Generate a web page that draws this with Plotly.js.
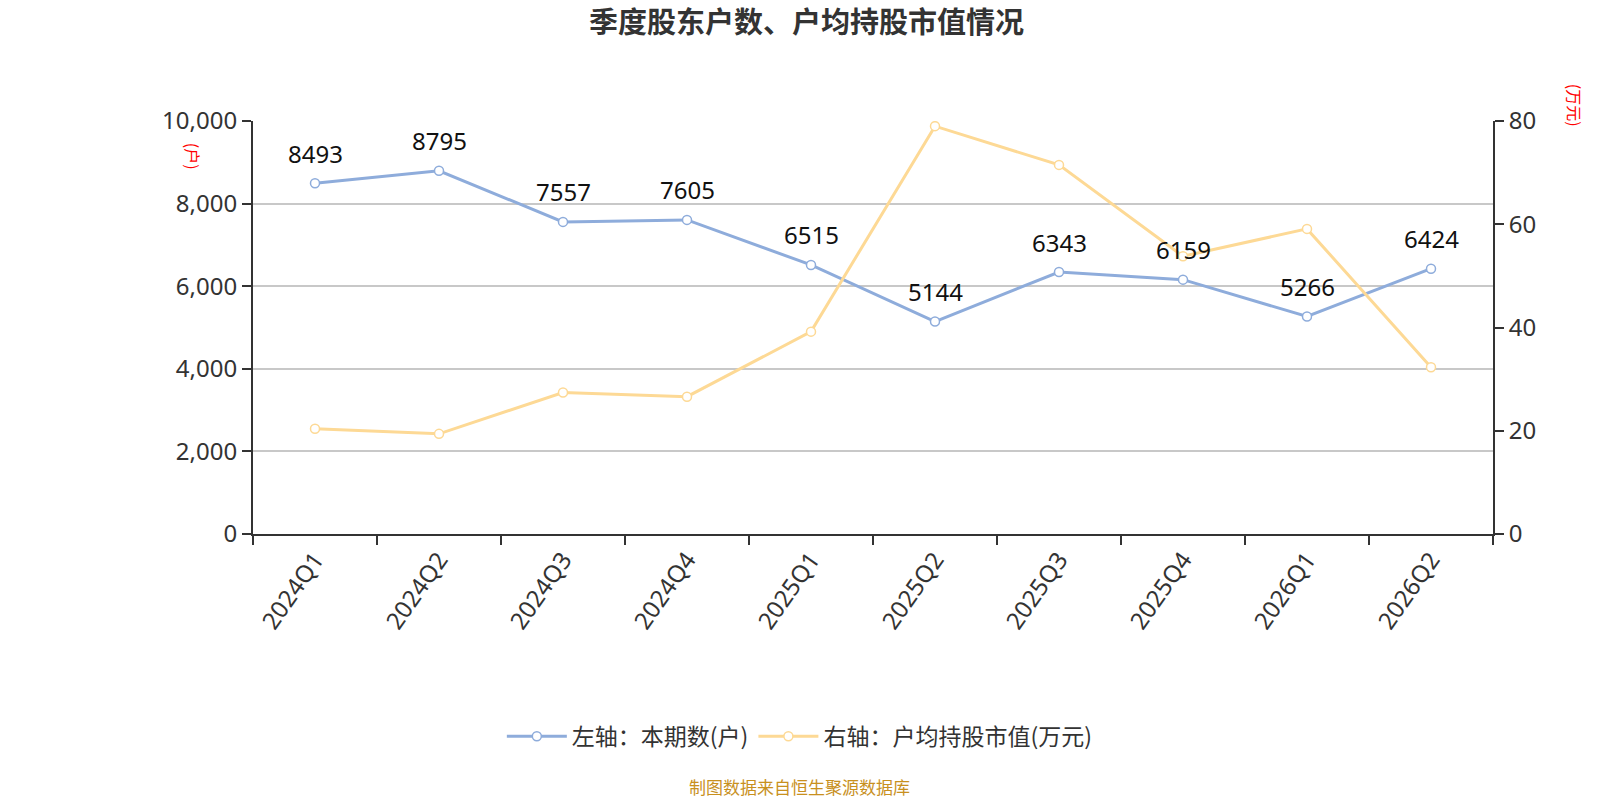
<!DOCTYPE html>
<html>
<head>
<meta charset="utf-8">
<script src="https://cdn.plot.ly/plotly-3.0.1.min.js"></script>
<style>
  html, body { margin: 0; padding: 0; background: #fff; }
  #chart { width: 1600px; height: 800px; }
</style>
</head>
<body>
<div id="chart"></div>
<script>
const quarters = ['2024Q1', '2024Q2', '2024Q3', '2024Q4', '2025Q1',
                  '2025Q2', '2025Q3', '2025Q4', '2026Q1', '2026Q2'];
const holders = [8493, 8795, 7557, 7605, 6515, 5144, 6343, 6159, 5266, 6424];
const avgValue = [20.4, 19.4, 27.4, 26.6, 39.2, 79.0, 71.5, 53.8, 59.1, 32.3];
const leftTicks = [0, 2000, 4000, 6000, 8000, 10000];
const rightTicks = [0, 20, 40, 60, 80];

const FONT = 'Noto Sans CJK SC, Noto Sans, sans-serif';
const NUMFONT = 'Noto Sans, Open Sans, sans-serif';
const BLUE = '#8eacdb';
const ORANGE = '#fdd995';

const traces = [
  {
    type: 'scatter', mode: 'lines+markers', name: '左轴：本期数(户)',
    x: quarters, y: holders, yaxis: 'y',
    line: { color: BLUE, width: 3 },
    marker: { size: 9, color: '#fff', line: { color: BLUE, width: 1.5 } },
    hovertemplate: '%{x}<br>%{y}<extra></extra>',
  },
  {
    type: 'scatter', mode: 'lines+markers', name: '右轴：户均持股市值(万元)',
    x: quarters, y: avgValue, yaxis: 'y2',
    line: { color: ORANGE, width: 3 },
    marker: { size: 9, color: '#fff', line: { color: ORANGE, width: 1.5 } },
    hovertemplate: '%{x}<br>%{y}<extra></extra>',
  },
];

// value labels above the blue points
const labels = quarters.map((q, i) => ({
  x: q, y: holders[i], xref: 'x', yref: 'y',
  text: String(holders[i]), showarrow: false, yshift: 30,
  font: { family: NUMFONT, size: 24, color: '#111' },
}));

const tickFont = { family: NUMFONT, size: 24, color: '#333' };

const layout = {
  width: 1600, height: 800,
  paper_bgcolor: '#fff', plot_bgcolor: '#fff',
  font: { family: FONT, color: '#333', size: 20 },
  margin: { l: 253, r: 107, t: 121, b: 266 },
  title: {
    text: '<b>季度股东户数、户均持股市值情况</b>',
    font: { family: FONT, size: 29, color: '#333' },
    x: 0.504, xanchor: 'center', y: 0.971, yanchor: 'middle',
  },
  xaxis: {
    type: 'category', range: [-0.5, quarters.length - 0.5], tickangle: -55,
    tickson: 'boundaries', ticks: 'outside', ticklen: 9, tickwidth: 2, tickcolor: '#333',
    showline: true, linecolor: '#333', linewidth: 2,
    showgrid: false, zeroline: false,
    tickfont: tickFont,
  },
  yaxis: {
    range: [0, 10000], tickvals: leftTicks, tickformat: ',d',
    ticks: 'outside', ticklen: 9, tickwidth: 2, tickcolor: '#333',
    showline: true, linecolor: '#333', linewidth: 2,
    gridcolor: '#c8c8c8', gridwidth: 1.5, zeroline: false,
    tickfont: tickFont,
  },
  yaxis2: {
    overlaying: 'y', side: 'right',
    range: [0, 80], tickvals: rightTicks,
    ticks: 'outside', ticklen: 9, tickwidth: 2, tickcolor: '#333',
    showline: true, linecolor: '#333', linewidth: 2,
    showgrid: false, zeroline: false,
    tickfont: tickFont,
  },
  showlegend: true,
  legend: {
    orientation: 'h', x: 0.441, xanchor: 'center', y: -0.49, yanchor: 'middle',
    font: { family: FONT, size: 23, color: '#333' },
    itemwidth: 60,
  },
  annotations: [
    ...labels,
    { xref: 'paper', yref: 'paper', x: -0.06, y: 0.952, text: '(户)', textangle: 90,
      showarrow: false, font: { family: FONT, size: 16, color: '#f00' } },
    { xref: 'paper', yref: 'paper', x: 1.077, y: 1.095, text: '(万元)', textangle: 90,
      showarrow: false, font: { family: FONT, size: 16, color: '#f00' } },
    { xref: 'paper', yref: 'paper', x: 0.441, y: -0.647, text: '制图数据来自恒生聚源数据库',
      showarrow: false, font: { family: FONT, size: 17, color: '#c8901e' } },
  ],
};

Plotly.newPlot('chart', traces, layout, { displayModeBar: false });
</script>
</body>
</html>
